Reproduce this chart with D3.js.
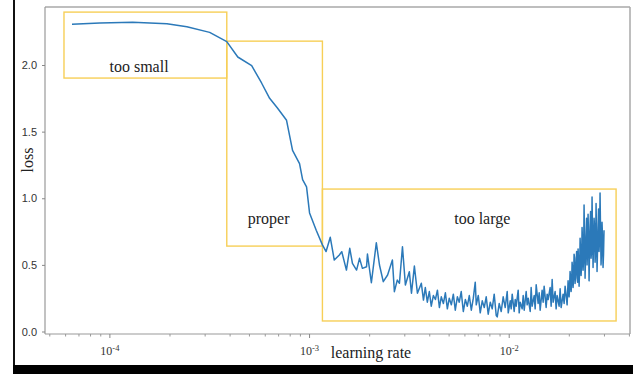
<!DOCTYPE html>
<html>
<head>
<meta charset="utf-8">
<script src="https://cdn.jsdelivr.net/npm/d3@7"></script>
<style>
  html, body { margin: 0; padding: 0; background: #fff; }
  svg { display: block; }
</style>
</head>
<body>
<svg id="chart" width="633" height="374"></svg>
<script>
// Learning-rate range test: loss recorded while the learning rate grows.
const learningRate = [
  6.46e-5, 8.91e-5, 1.30e-4, 1.93e-4, 2.43e-4, 3.16e-4, 3.85e-4, 4.37e-4, 5.13e-4, 5.75e-4,
  6.31e-4, 6.92e-4, 7.67e-4, 8.22e-4, 8.91e-4, 9.23e-4, 9.66e-4, 1.00e-3, 1.08e-3, 1.16e-3,
  1.21e-3, 1.27e-3, 1.33e-3, 1.41e-3, 1.45e-3, 1.53e-3, 1.59e-3, 1.64e-3, 1.72e-3, 1.78e-3,
  1.84e-3, 1.93e-3, 1.95e-3, 2.04e-3, 2.16e-3, 2.24e-3, 2.34e-3, 2.46e-3, 2.60e-3, 2.66e-3,
  2.75e-3, 2.82e-3, 2.92e-3, 3.02e-3, 3.16e-3, 3.24e-3, 3.35e-3, 3.47e-3, 3.63e-3, 3.72e-3,
  3.80e-3, 3.89e-3, 3.98e-3, 4.07e-3, 4.17e-3, 4.27e-3, 4.37e-3, 4.47e-3, 4.57e-3, 4.68e-3,
  4.79e-3, 4.90e-3, 5.01e-3, 5.13e-3, 5.25e-3, 5.37e-3, 5.50e-3, 5.62e-3, 5.75e-3, 5.89e-3,
  6.03e-3, 6.17e-3, 6.31e-3, 6.46e-3, 6.61e-3, 6.76e-3, 6.84e-3, 7.00e-3, 7.16e-3, 7.33e-3,
  7.50e-3, 7.67e-3, 7.85e-3, 8.04e-3, 8.22e-3, 8.41e-3, 8.61e-3, 8.71e-3, 8.91e-3, 9.12e-3,
  9.33e-3, 9.55e-3, 9.77e-3, 9.89e-3, 1.012e-2, 1.023e-2, 1.035e-2, 1.059e-2, 1.072e-2, 1.084e-2,
  1.109e-2, 1.122e-2, 1.135e-2, 1.161e-2, 1.175e-2, 1.189e-2, 1.216e-2, 1.230e-2, 1.245e-2, 1.274e-2,
  1.288e-2, 1.303e-2, 1.334e-2, 1.349e-2, 1.365e-2, 1.396e-2, 1.413e-2, 1.429e-2, 1.462e-2, 1.479e-2,
  1.496e-2, 1.531e-2, 1.549e-2, 1.567e-2, 1.603e-2, 1.622e-2, 1.641e-2, 1.660e-2, 1.698e-2, 1.718e-2,
  1.738e-2, 1.778e-2, 1.799e-2, 1.820e-2, 1.862e-2, 1.884e-2, 1.905e-2, 1.950e-2, 1.972e-2,
  1.995e-2, 2.007e-2, 2.018e-2, 2.030e-2, 2.042e-2, 2.054e-2, 2.065e-2, 2.077e-2, 2.089e-2, 2.101e-2,
  2.113e-2, 2.126e-2, 2.138e-2, 2.151e-2, 2.163e-2, 2.176e-2, 2.188e-2, 2.201e-2, 2.213e-2, 2.226e-2,
  2.239e-2, 2.252e-2, 2.265e-2, 2.278e-2, 2.291e-2, 2.304e-2, 2.317e-2, 2.331e-2, 2.344e-2, 2.358e-2,
  2.371e-2, 2.385e-2, 2.399e-2, 2.413e-2, 2.427e-2, 2.441e-2, 2.455e-2, 2.469e-2, 2.483e-2, 2.498e-2,
  2.512e-2, 2.527e-2, 2.541e-2, 2.556e-2, 2.570e-2, 2.585e-2, 2.600e-2, 2.615e-2, 2.630e-2, 2.646e-2,
  2.661e-2, 2.677e-2, 2.692e-2, 2.708e-2, 2.723e-2, 2.739e-2, 2.754e-2, 2.770e-2, 2.786e-2, 2.802e-2,
  2.818e-2, 2.835e-2, 2.851e-2, 2.868e-2, 2.884e-2, 2.901e-2, 2.917e-2, 2.934e-2, 2.951e-2, 2.968e-2,
  2.985e-2
];
const loss = [
  2.305, 2.315, 2.320, 2.310, 2.287, 2.245, 2.175, 2.060, 1.995, 1.865,
  1.750, 1.675, 1.585, 1.360, 1.260, 1.140, 1.085, 0.890, 0.760, 0.650,
  0.600, 0.707, 0.536, 0.574, 0.599, 0.461, 0.624, 0.512, 0.461, 0.549,
  0.474, 0.486, 0.581, 0.366, 0.666, 0.499, 0.374, 0.424, 0.536, 0.299,
  0.386, 0.362, 0.636, 0.349, 0.449, 0.287, 0.491, 0.287, 0.362, 0.236,
  0.330, 0.220, 0.300, 0.190, 0.270, 0.240, 0.310, 0.180, 0.260, 0.210,
  0.290, 0.170, 0.250, 0.200, 0.280, 0.160, 0.260, 0.220, 0.300, 0.150,
  0.240, 0.190, 0.270, 0.160, 0.250, 0.370, 0.200, 0.270, 0.140, 0.230,
  0.180, 0.260, 0.130, 0.220, 0.170, 0.280, 0.120, 0.110, 0.210, 0.150,
  0.260, 0.180, 0.300, 0.140, 0.230, 0.170, 0.280, 0.150, 0.240, 0.190,
  0.310, 0.140, 0.220, 0.170, 0.270, 0.160, 0.300, 0.200, 0.250, 0.150,
  0.330, 0.190, 0.270, 0.170, 0.350, 0.210, 0.290, 0.160, 0.310, 0.220,
  0.340, 0.180, 0.280, 0.240, 0.330, 0.190, 0.390, 0.220, 0.300, 0.170,
  0.270, 0.190, 0.320, 0.180, 0.280, 0.210, 0.340, 0.200, 0.380,
  0.260, 0.330, 0.450, 0.400, 0.300, 0.360, 0.520, 0.470, 0.330, 0.400,
  0.580, 0.550, 0.360, 0.440, 0.500, 0.600, 0.400, 0.370, 0.620, 0.520,
  0.340, 0.450, 0.700, 0.600, 0.420, 0.500, 0.780, 0.660, 0.460, 0.550,
  0.950, 0.700, 0.400, 0.580, 0.720, 0.850, 0.500, 0.620, 0.880, 0.700,
  0.380, 0.620, 0.800, 0.900, 0.550, 0.600, 1.010, 0.720, 0.480, 0.660,
  0.850, 0.780, 0.520, 0.600, 0.960, 0.700, 0.450, 0.620, 0.780, 0.920,
  0.600, 0.700, 1.040, 0.750, 0.500, 0.620, 0.820, 0.700, 0.480, 0.580,
  0.760
];

// Regions of the learning-rate sweep, given as [lrMin, lrMax] × [lossMin, lossMax]
const regionNames = ["too small", "proper", "too large"];
const regionLr    = [[5.89e-5, 3.85e-4], [3.85e-4, 1.16e-3], [1.16e-3, 3.43e-2]];
const regionLoss  = [[1.902, 2.397], [0.641, 2.179], [0.079, 1.069]];
const regionLabelAt = [[1.40e-4, 1.95], [6.24e-4, 0.81], [7.33e-3, 0.81]];

const yTicks = [0.0, 0.5, 1.0, 1.5, 2.0];
const xMajorTicks = [1e-4, 1e-3, 1e-2];
const xMajorExp = ["-4", "-3", "-2"];

const svg = d3.select("#chart");
const W = 633, H = 374;
const plot = { left: 45, right: 630, top: 7, bottom: 334 };

const x = d3.scaleLog()
  .domain([Math.pow(10, -4.325), Math.pow(10, -1.395)])
  .range([plot.left, plot.right]);
const y = d3.scaleLinear()
  .domain([0, 2])
  .range([331.5, 65]);

// outer page border: dark left rule and bottom band
svg.append("rect").attr("x", 13).attr("y", 0).attr("width", 2).attr("height", 366).attr("fill", "#111");
svg.append("rect").attr("x", 13).attr("y", 365).attr("width", W - 13).attr("height", H - 365).attr("fill", "#000");

// plot frame (top and right edges)
svg.append("line").attr("x1", plot.left).attr("x2", plot.right).attr("y1", plot.top).attr("y2", plot.top)
  .attr("stroke", "#a8a8a8").attr("stroke-width", 1.5);
svg.append("line").attr("x1", plot.right).attr("x2", plot.right).attr("y1", plot.top).attr("y2", plot.bottom)
  .attr("stroke", "#a8a8a8").attr("stroke-width", 1.5);

// y axis
const yAxis = svg.append("g")
  .attr("transform", `translate(${plot.left},0)`)
  .call(d3.axisLeft(y).tickValues(yTicks).tickFormat(d3.format(".1f")).tickSize(3).tickPadding(5));
yAxis.select(".domain").attr("d", `M0,${plot.top}V${plot.bottom}`).attr("stroke", "#999").attr("stroke-width", 1.2);
yAxis.selectAll(".tick line").attr("stroke", "#888");
yAxis.selectAll(".tick text")
  .attr("font-family", "'Liberation Sans', Arial, sans-serif")
  .attr("font-size", 11).attr("fill", "#333");

// x axis: decade ticks plus minor ticks
const [d0, d1] = x.domain();
const minorTicks = [];
for (let e = -5; e <= -1; e++) {
  for (let m = 2; m <= 9; m++) {
    const v = m * Math.pow(10, e);
    if (v > d0 && v < d1) minorTicks.push(v);
  }
}
const xAxisG = svg.append("g").attr("transform", `translate(0,${plot.bottom})`);
xAxisG.append("line").attr("x1", plot.left).attr("x2", plot.right)
  .attr("stroke", "#999").attr("stroke-width", 1.2);
xAxisG.selectAll(".minor").data(minorTicks).join("line")
  .attr("x1", d => x(d)).attr("x2", d => x(d)).attr("y1", 0).attr("y2", 2.5)
  .attr("stroke", "#999");
xAxisG.selectAll(".major").data(xMajorTicks).join("line")
  .attr("x1", d => x(d)).attr("x2", d => x(d)).attr("y1", 0).attr("y2", 4)
  .attr("stroke", "#888");
const xLabels = xAxisG.selectAll(".lbl").data(xMajorTicks).join("text")
  .attr("x", d => x(d)).attr("y", 21)
  .attr("text-anchor", "middle")
  .attr("font-family", "'Liberation Serif', 'Times New Roman', serif")
  .attr("font-size", 12).attr("fill", "#333");
xLabels.append("tspan").text("10");
xLabels.append("tspan").attr("dy", -4).attr("font-size", 8.5).text((d, i) => xMajorExp[i]);

// axis titles
svg.append("text").attr("x", 371).attr("y", 358).attr("text-anchor", "middle")
  .attr("font-family", "'Liberation Serif', 'Times New Roman', serif")
  .attr("font-size", 16).attr("fill", "#222").text("learning rate");
svg.append("text").attr("transform", "translate(33,160) rotate(-90)").attr("text-anchor", "middle")
  .attr("font-family", "'Liberation Serif', 'Times New Roman', serif")
  .attr("font-size", 16).attr("fill", "#222").text("loss");

// region boxes
const regions = regionNames.map((name, i) => ({
  name, lr: regionLr[i], ls: regionLoss[i], at: regionLabelAt[i]
}));
svg.append("g").selectAll("rect").data(regions).join("rect")
  .attr("x", d => x(d.lr[0])).attr("y", d => y(d.ls[1]))
  .attr("width", d => x(d.lr[1]) - x(d.lr[0]))
  .attr("height", d => y(d.ls[0]) - y(d.ls[1]))
  .attr("fill", "none").attr("stroke", "#f7cf57").attr("stroke-width", 1.4);

// loss curve
const pts = learningRate.map((lr, i) => [lr, loss[i]]);
svg.append("path").datum(pts)
  .attr("fill", "none").attr("stroke", "#2b79b9").attr("stroke-width", 1.5)
  .attr("stroke-linejoin", "round")
  .attr("d", d3.line().x(d => x(d[0])).y(d => y(d[1])));

// region labels
svg.append("g").selectAll("text").data(regions).join("text")
  .attr("x", d => x(d.at[0])).attr("y", d => y(d.at[1]))
  .attr("text-anchor", "middle")
  .attr("font-family", "'Liberation Serif', 'Times New Roman', serif")
  .attr("font-size", 16).attr("fill", "#222")
  .text(d => d.name);
</script>
</body>
</html>
